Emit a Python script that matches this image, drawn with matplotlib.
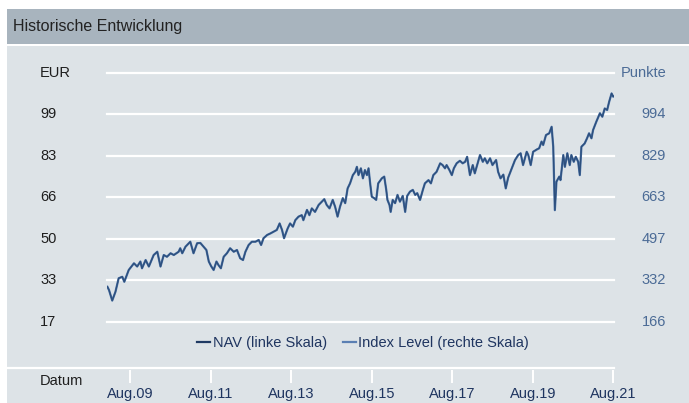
import matplotlib
matplotlib.use("Agg")
import matplotlib.pyplot as plt
from matplotlib.patches import Rectangle
from matplotlib.lines import Line2D
from matplotlib.transforms import blended_transform_factory

plt.rcParams['font.family'] = ['Liberation Sans', 'DejaVu Sans']

# decimal years of the sampled points
dates = [
    2009.01, 2009.05, 2009.13, 2009.21, 2009.29, 2009.38, 2009.43, 2009.54, 2009.67, 2009.75,
    2009.83, 2009.87, 2009.96, 2010.04, 2010.16, 2010.25, 2010.33, 2010.41, 2010.49, 2010.58,
    2010.66, 2010.78, 2010.82, 2010.87, 2010.95, 2011.07, 2011.15, 2011.24, 2011.32, 2011.40,
    2011.47, 2011.53, 2011.59, 2011.65, 2011.72, 2011.77, 2011.83, 2011.90, 2011.98, 2012.06,
    2012.15, 2012.23, 2012.31, 2012.38, 2012.44, 2012.52, 2012.60, 2012.69, 2012.77, 2012.83,
    2012.89, 2012.98, 2013.06, 2013.14, 2013.22, 2013.29, 2013.35, 2013.40, 2013.49, 2013.55,
    2013.62, 2013.68, 2013.76, 2013.84, 2013.88, 2013.97, 2014.03, 2014.09, 2014.17, 2014.26,
    2014.34, 2014.40, 2014.46, 2014.53, 2014.61, 2014.67, 2014.73, 2014.79, 2014.86, 2014.92,
    2014.98, 2015.04, 2015.11, 2015.17, 2015.21, 2015.25, 2015.31, 2015.36, 2015.41, 2015.46,
    2015.50, 2015.54, 2015.58, 2015.64, 2015.69, 2015.74, 2015.83, 2015.89, 2015.94, 2015.97,
    2016.02, 2016.05, 2016.10, 2016.16, 2016.22, 2016.28, 2016.35, 2016.41, 2016.46, 2016.53,
    2016.60, 2016.66, 2016.71, 2016.78, 2016.85, 2016.90, 2016.99, 2017.05, 2017.11, 2017.19,
    2017.28, 2017.34, 2017.40, 2017.44, 2017.51, 2017.57, 2017.62, 2017.69, 2017.77, 2017.84,
    2017.90, 2017.95, 2018.02, 2018.09, 2018.14, 2018.20, 2018.27, 2018.34, 2018.39, 2018.45,
    2018.52, 2018.58, 2018.67, 2018.72, 2018.78, 2018.85, 2018.91, 2018.97, 2019.06, 2019.14,
    2019.22, 2019.28, 2019.34, 2019.43, 2019.47, 2019.53, 2019.59, 2019.68, 2019.74, 2019.80,
    2019.84, 2019.91, 2019.99, 2020.05, 2020.09, 2020.13, 2020.17, 2020.24, 2020.27, 2020.34,
    2020.38, 2020.44, 2020.50, 2020.54, 2020.60, 2020.65, 2020.71, 2020.75, 2020.79, 2020.87,
    2020.93, 2020.98, 2021.04, 2021.08, 2021.16, 2021.25, 2021.31, 2021.37, 2021.43, 2021.48,
    2021.54, 2021.58, 2021.60,
]

nav = [
    30.4, 29.1, 24.9, 28.4, 33.8, 34.4, 32.4, 37.1, 39.7, 38.4,
    40.4, 37.7, 41.0, 38.4, 43.0, 44.3, 38.4, 43.0, 42.3, 43.7,
    43.0, 44.3, 45.7, 43.7, 46.3, 48.3, 43.7, 47.7, 47.8, 46.3,
    45.0, 40.4, 38.5, 37.1, 40.4, 39.0, 37.7, 42.3, 43.7, 45.7,
    44.3, 45.0, 41.7, 41.0, 44.3, 47.0, 48.3, 48.3, 49.0, 47.0,
    49.7, 51.0, 51.6, 52.3, 53.0, 55.6, 53.0, 49.7, 53.6, 55.6,
    54.3, 56.9, 58.3, 58.9, 56.9, 61.0, 58.9, 61.6, 60.2, 62.9,
    64.2, 65.2, 62.9, 61.6, 64.9, 62.2, 58.3, 62.2, 65.6, 63.6,
    69.5, 71.5, 74.8, 76.1, 78.1, 74.8, 77.5, 73.5, 76.8, 74.8,
    77.5, 71.5, 66.2, 65.6, 64.9, 71.5, 73.5, 74.2, 68.9, 64.9,
    62.9, 60.2, 64.9, 63.6, 66.9, 64.2, 66.5, 60.2, 66.5, 68.2,
    68.9, 66.9, 67.6, 64.9, 68.9, 71.5, 72.8, 71.5, 74.8, 76.1,
    79.5, 78.8, 77.5, 78.8, 76.8, 74.8, 77.5, 79.5, 80.5, 79.5,
    80.1, 82.1, 74.8, 78.8, 75.5, 78.8, 82.8, 80.1, 81.5, 79.5,
    81.5, 78.8, 80.8, 76.1, 73.5, 75.0, 69.5, 73.8, 77.5, 80.8,
    82.8, 83.5, 78.8, 84.1, 82.8, 78.8, 84.1, 85.0, 85.5, 88.1,
    86.8, 90.7, 91.4, 94.0, 86.1, 60.9, 72.2, 74.2, 72.8, 82.8,
    78.1, 83.5, 78.8, 82.8, 80.1, 82.1, 80.1, 74.8, 86.1, 87.4,
    89.4, 91.4, 89.4, 92.7, 96.0, 99.4, 98.0, 101.3, 100.7, 104.0,
    107.3, 106.0, 106.2,
]

index_level = [
    305, 292, 250, 285, 339, 345, 325, 372, 399, 386,
    406, 379, 412, 386, 432, 445, 386, 432, 425, 439,
    432, 445, 459, 439, 465, 485, 439, 479, 480, 465,
    452, 406, 387, 372, 406, 392, 379, 425, 439, 459,
    445, 452, 419, 412, 445, 472, 485, 485, 492, 472,
    499, 512, 518, 525, 532, 558, 532, 499, 538, 558,
    545, 571, 585, 591, 571, 612, 591, 618, 604, 632,
    645, 655, 632, 618, 652, 624, 585, 624, 659, 639,
    698, 718, 751, 764, 784, 751, 778, 738, 771, 751,
    778, 718, 665, 659, 652, 718, 738, 745, 692, 652,
    632, 604, 652, 639, 672, 645, 668, 604, 668, 685,
    692, 672, 679, 652, 692, 718, 731, 718, 751, 764,
    798, 791, 778, 791, 771, 751, 778, 798, 808, 798,
    804, 824, 751, 791, 758, 791, 831, 804, 818, 798,
    818, 791, 811, 764, 738, 753, 698, 741, 778, 811,
    831, 838, 791, 844, 831, 791, 844, 853, 858, 885,
    871, 911, 918, 944, 864, 611, 725, 745, 731, 831,
    784, 838, 791, 831, 804, 824, 804, 751, 864, 877,
    898, 918, 898, 931, 964, 998, 984, 1017, 1011, 1044,
    1077, 1064, 1066,
]

nav_ticks = [16.5, 33.0, 49.5, 66.0, 82.5, 99.0, 115.5]
nav_labels = ['17', '33', '50', '66', '83', '99', 'EUR']
idx_ticks = [165.7, 331.4, 497.1, 662.8, 828.5, 994.2, 1159.9]
idx_labels = ['166', '332', '497', '663', '829', '994', 'Punkte']
x_ticks = [2009.583, 2011.583, 2013.583, 2015.583, 2017.583, 2019.583, 2021.583]
x_labels = ['Aug.09', 'Aug.11', 'Aug.13', 'Aug.15', 'Aug.17', 'Aug.19', 'Aug.21']

W, H = 689, 403
fig = plt.figure(figsize=(W / 100, H / 100), dpi=100, facecolor='white')

# panel backgrounds
fig.patches.append(Rectangle((7 / W, 1 - 44 / H), 1, 35 / H, transform=fig.transFigure,
                             facecolor='#a8b4be', edgecolor='none', zorder=-10))
fig.patches.append(Rectangle((7 / W, 0), 1, 1 - 45.5 / H, transform=fig.transFigure,
                             facecolor='#dde3e7', edgecolor='none', zorder=-10))
fig.text(13 / W, 1 - 27 / H, 'Historische Entwicklung', fontsize=11.5, color='#222222',
         ha='left', va='center')

left, right = 107 / W, 614 / W
bottom, top = 1 - 363.2 / H, 1 - 72.7 / H
ax_idx = fig.add_axes([left, bottom, right - left, top - bottom])
ax_nav = ax_idx.twinx()

for a in (ax_idx, ax_nav):
    a.set_facecolor('none')
    for s in a.spines.values():
        s.set_visible(False)
    a.set_yticks([])

ax_idx.set_ylim(0, 1159.9)
ax_nav.set_ylim(0, 115.5)
ax_idx.set_xlim(2009.0, 2021.6)

for v in idx_ticks:
    ax_idx.axhline(v, color='white', lw=1.6, clip_on=False, zorder=0)

l_idx, = ax_idx.plot(dates, index_level, color='#4a71a4', lw=1.6)
l_nav, = ax_nav.plot(dates, nav, color='#2d4f7d', lw=0.9)

# y labels
tl = blended_transform_factory(fig.transFigure, ax_nav.transData)
for v, s in zip(nav_ticks, nav_labels):
    fig.text(40 / W, v, s, transform=tl, fontsize=10.5, color='#1e1e1e', ha='left', va='center')
tr = blended_transform_factory(fig.transFigure, ax_idx.transData)
for v, s in zip(idx_ticks, idx_labels):
    fig.text(666 / W, v, s, transform=tr, fontsize=10.5, color='#4b6b96', ha='right', va='center')

# x axis
ax_idx.spines['bottom'].set_visible(True)
ax_idx.spines['bottom'].set_position(('outward', 5))
ax_idx.spines['bottom'].set_color('none')
ax_idx.set_xticks(x_ticks)
ax_idx.set_xticklabels(x_labels, fontsize=10.5, color='#1f3560')
ax_idx.tick_params(axis='x', length=9, width=1.4, color='white', pad=3)
fig.add_artist(Line2D([7 / W, 614 / W], [1 - 368 / H, 1 - 368 / H], color='white', lw=1.6,
                      transform=fig.transFigure))
fig.text(40 / W, 1 - 381 / H, 'Datum', fontsize=10.5, color='#1e1e1e', ha='left', va='center')

leg_nav = Line2D([], [], color='#1f3a63', lw=1.6)
leg_idx = Line2D([], [], color='#5a7fb3', lw=1.6)
fig.legend([leg_nav, leg_idx], ['NAV (linke Skala)', 'Index Level (rechte Skala)'],
           loc='center', bbox_to_anchor=(363 / W, 1 - 342.7 / H), ncol=2, frameon=False,
           fontsize=10.5, handlelength=0.9, handletextpad=0.15, columnspacing=1.1,
           labelcolor='#1f3560')

fig.savefig('out.png', dpi=100, facecolor='white')
